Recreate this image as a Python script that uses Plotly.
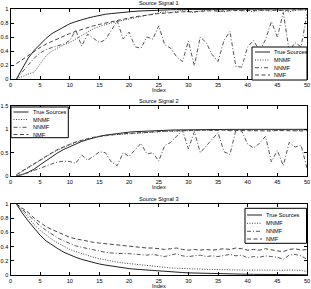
import plotly.graph_objects as go

index = list(range(1, 51))
x_ticks = [0, 5, 10, 15, 20, 25, 30, 35, 40, 45, 50]
series_names = ["True Sources", "MNMF", "NNMF", "NMF"]
titles = ["Source Signal 1", "Source Signal 2", "Source Signal 3"]

true1 = [0, 0.16, 0.30, 0.41, 0.50, 0.58, 0.65, 0.70, 0.75, 0.79, 0.82, 0.85, 0.87, 0.89, 0.91, 0.925, 0.935, 0.945, 0.955, 0.96,
         0.967, 0.972, 0.977, 0.98, 0.984, 0.987, 0.989, 0.991, 0.992, 0.993, 0.994, 0.995, 0.996, 0.997, 0.997, 0.998, 0.998, 0.998, 0.999, 0.999,
         0.999, 0.999, 1, 1, 1, 1, 1, 1, 1, 1]
mnmf1 = [0.0, 0.04, 0.07, 0.10, 0.22, 0.33, 0.40, 0.45, 0.49, 0.52, 0.57, 0.62, 0.68, 0.72, 0.75, 0.78, 0.80, 0.82, 0.84, 0.86,
         0.88, 0.90, 0.92, 0.93, 0.945, 0.96, 0.95, 0.97, 0.98, 0.96, 0.95, 0.97, 0.98, 0.99, 0.97, 0.96, 0.98, 0.99, 0.97, 0.98,
         0.96, 0.99, 0.98, 0.97, 0.99, 0.98, 0.96, 0.98, 0.99, 0.98]
nnmf1 = [0.0, 0.10, 0.20, 0.30, 0.37, 0.42, 0.45, 0.48, 0.50, 0.55, 0.70, 0.47, 0.64, 0.58, 0.52, 0.56, 0.70, 0.83, 0.57, 0.67,
         0.46, 0.44, 0.60, 0.57, 0.76, 0.49, 0.44, 0.32, 0.25, 0.54, 0.19, 0.60, 0.52, 0.35, 0.25, 0.55, 0.68, 0.18, 0.17, 0.46,
         0.55, 0.40, 0.56, 0.82, 0.60, 0.95, 0.40, 0.52, 0.46, 0.93]
nmf1 = [0.22, 0.28, 0.34, 0.40, 0.45, 0.50, 0.54, 0.58, 0.62, 0.65, 0.68, 0.71, 0.74, 0.76, 0.78, 0.80, 0.82, 0.84, 0.86, 0.875,
        0.89, 0.90, 0.915, 0.925, 0.935, 0.94, 0.95, 0.955, 0.96, 0.96, 0.965, 0.97, 0.97, 0.975, 0.97, 0.975, 0.98, 0.975, 0.98, 0.98,
        0.975, 0.98, 0.985, 0.98, 0.985, 0.98, 0.985, 0.99, 0.985, 0.99]

true2 = [0, 0.03, 0.08, 0.15, 0.24, 0.33, 0.42, 0.50, 0.57, 0.63, 0.69, 0.74, 0.78, 0.82, 0.85, 0.875, 0.895, 0.91, 0.925, 0.94,
         0.95, 0.958, 0.965, 0.97, 0.975, 0.98, 0.984, 0.987, 0.99, 0.992, 0.994, 0.995, 0.996, 0.997, 0.998, 0.998, 0.999, 0.999, 1, 1,
         1, 1, 1, 1, 1, 1, 1, 1, 1, 1]
mnmf2 = [0.02, 0.10, 0.18, 0.26, 0.34, 0.42, 0.49, 0.56, 0.62, 0.67, 0.72, 0.76, 0.79, 0.82, 0.85, 0.87, 0.88, 0.89, 0.90, 0.91,
         0.92, 0.93, 0.94, 0.945, 0.95, 0.955, 0.96, 0.965, 0.97, 0.975, 0.98, 0.985, 0.98, 0.99, 0.985, 0.99, 0.98, 0.99, 0.995, 0.99,
         0.98, 0.99, 0.985, 0.99, 0.98, 0.99, 0.985, 0.99, 0.98, 0.99]
nnmf2 = [0.0, 0.03, 0.07, 0.12, 0.17, 0.22, 0.26, 0.30, 0.32, 0.31, 0.27, 0.45, 0.34, 0.42, 0.52, 0.50, 0.30, 0.22, 0.50, 0.42,
         0.55, 0.70, 0.47, 0.50, 0.32, 0.65, 0.72, 0.85, 0.98, 0.58, 0.95, 0.50, 0.65, 0.78, 0.93, 0.52, 0.46, 0.98, 0.96, 0.68,
         0.60, 0.70, 0.85, 0.30, 0.55, 0.22, 0.72, 0.62, 0.66, 0.17]
nmf2 = [0.03, 0.11, 0.19, 0.27, 0.35, 0.43, 0.50, 0.57, 0.63, 0.68, 0.73, 0.77, 0.80, 0.83, 0.85, 0.87, 0.885, 0.895, 0.905, 0.915,
        0.925, 0.935, 0.94, 0.95, 0.955, 0.96, 0.965, 0.97, 0.975, 0.98, 0.975, 0.98, 0.985, 0.975, 0.98, 0.985, 0.97, 0.98, 0.975, 0.97,
        0.965, 0.975, 0.97, 0.965, 0.975, 0.97, 0.96, 0.97, 0.965, 0.97]

true3 = [1.0, 0.87, 0.76, 0.66, 0.56, 0.48, 0.42, 0.37, 0.32, 0.28, 0.25, 0.22, 0.195, 0.175, 0.155, 0.14, 0.125, 0.11, 0.10, 0.09,
         0.082, 0.075, 0.068, 0.062, 0.055, 0.05, 0.045, 0.04, 0.035, 0.03, 0.027, 0.024, 0.021, 0.019, 0.017, 0.015, 0.013, 0.012, 0.011, 0.01,
         0.009, 0.008, 0.007, 0.006, 0.006, 0.005, 0.005, 0.004, 0.004, 0.004]
mnmf3 = [1.0, 0.90, 0.80, 0.71, 0.63, 0.56, 0.50, 0.45, 0.40, 0.36, 0.33, 0.30, 0.27, 0.25, 0.23, 0.21, 0.20, 0.18, 0.17, 0.16,
         0.15, 0.14, 0.13, 0.12, 0.115, 0.11, 0.10, 0.095, 0.09, 0.085, 0.085, 0.08, 0.08, 0.078, 0.075, 0.075, 0.072, 0.07, 0.07, 0.068,
         0.07, 0.068, 0.065, 0.07, 0.068, 0.066, 0.07, 0.068, 0.065, 0.05]
nnmf3 = [1.0, 0.92, 0.84, 0.76, 0.69, 0.63, 0.57, 0.52, 0.48, 0.44, 0.41, 0.39, 0.37, 0.35, 0.33, 0.32, 0.31, 0.30, 0.30, 0.30,
         0.29, 0.29, 0.28, 0.29, 0.27, 0.26, 0.28, 0.30, 0.27, 0.26, 0.27, 0.28, 0.26, 0.27, 0.26, 0.28, 0.29, 0.27, 0.28, 0.24,
         0.26, 0.25, 0.27, 0.26, 0.25, 0.22, 0.28, 0.29, 0.27, 0.22]
nmf3 = [1.0, 0.94, 0.88, 0.80, 0.74, 0.68, 0.64, 0.60, 0.56, 0.53, 0.51, 0.49, 0.47, 0.46, 0.45, 0.44, 0.43, 0.42, 0.41, 0.40,
        0.40, 0.39, 0.38, 0.38, 0.37, 0.36, 0.37, 0.38, 0.36, 0.35, 0.36, 0.35, 0.36, 0.35, 0.36, 0.37, 0.36, 0.38, 0.37, 0.35,
        0.36, 0.35, 0.37, 0.35, 0.34, 0.33, 0.36, 0.37, 0.35, 0.36]

y_ticks = [[0, 0.2, 0.4, 0.6, 0.8, 1], [0, 0.5, 1, 1.5], [0, 0.2, 0.4, 0.6, 0.8, 1]]
y_ranges = [[0, 1], [0, 1.5], [0, 1]]
data = [[true1, mnmf1, nnmf1, nmf1], [true2, mnmf2, nnmf2, nmf2], [true3, mnmf3, nnmf3, nmf3]]

W, H = 311, 289
FONT = "Liberation Sans, Arial, sans-serif"
FS = 5.6
styles = [
    dict(color="#222222", width=1, dash="solid"),
    dict(color="#444444", width=1, dash="1px,1.5px"),
    dict(color="#555555", width=1, dash="4px,2px,1px,2px"),
    dict(color="#444444", width=1, dash="4px,2.5px"),
]

def px(x):
    return x / W

def py(y):
    return 1 - y / H

x_dom = [px(10.5), px(307)]
y_px = [(9, 79), (106, 176), (204, 275)]
y_doms = [[py(b), py(t)] for t, b in y_px]

fig = go.Figure()
for i in range(3):
    ax = "" if i == 0 else str(i + 1)
    for j in range(4):
        fig.add_trace(go.Scatter(
            x=index, y=data[i][j], mode="lines", name=series_names[j],
            line=styles[j], xaxis="x" + ax, yaxis="y" + ax, showlegend=False,
        ))

axis_common = dict(
    showgrid=False, zeroline=False, showline=True, linecolor="black", linewidth=1,
    mirror="ticks", ticks="inside", ticklen=3, tickcolor="black", tickwidth=1,
    tickfont=dict(family=FONT, size=FS, color="black"), automargin=False,
)

layout = dict(
    width=W, height=H, margin=dict(l=0, r=0, t=0, b=0, autoexpand=False),
    paper_bgcolor="white", plot_bgcolor="white",
    font=dict(family=FONT, size=FS, color="black"),
    showlegend=False,
)
for i in range(3):
    ax = "" if i == 0 else str(i + 1)
    layout["xaxis" + ax] = dict(axis_common, domain=x_dom, range=[0, 50], tickvals=x_ticks,
                                anchor="y" + ax, ticklabelstandoff=0)
    layout["yaxis" + ax] = dict(axis_common, domain=y_doms[i], range=y_ranges[i], tickvals=y_ticks[i],
                                anchor="x" + ax)

annotations = []
shapes = []
for i in range(3):
    t, b = y_px[i]
    annotations.append(dict(
        text=titles[i], xref="paper", yref="paper", x=(x_dom[0] + x_dom[1]) / 2,
        y=py(t - 5.5), yanchor="middle", xanchor="center", showarrow=False,
        font=dict(family=FONT, size=FS, color="black"),
    ))
    annotations.append(dict(
        text="Index", xref="paper", yref="paper", x=(x_dom[0] + x_dom[1]) / 2,
        y=py(b + 11), yanchor="middle", xanchor="center", showarrow=False,
        font=dict(family=FONT, size=FS, color="black"),
    ))

# legend boxes (pixel geometry): (left, top, right, bottom, row centres, line start, line end, text start)
legend_boxes = [
    (252, 47, 307, 80, [52, 60, 67.7, 75], 255, 270, 272),
    (11, 107, 68.3, 137.7, [112, 119.5, 127.3, 134.5], 13.5, 28.5, 30.5),
    (245, 208.3, 306.5, 243.3, [215, 223.3, 231.3, 239], 247, 262, 264),
]
for (l, t, r, b, rows, ls, le, ts) in legend_boxes:
    shapes.append(dict(type="rect", xref="paper", yref="paper", x0=px(l), x1=px(r), y0=py(b), y1=py(t),
                       line=dict(color="black", width=1), fillcolor="white", layer="above"))
    for j in range(4):
        shapes.append(dict(type="line", xref="paper", yref="paper", x0=px(ls), x1=px(le),
                           y0=py(rows[j]), y1=py(rows[j]), line=styles[j], layer="above"))
        annotations.append(dict(
            text=series_names[j], xref="paper", yref="paper", x=px(ts), y=py(rows[j]),
            xanchor="left", yanchor="middle", showarrow=False,
            font=dict(family=FONT, size=FS, color="black"),
        ))

layout["annotations"] = annotations
layout["shapes"] = shapes

fig.update_layout(**layout)
fig.write_html("out.html", config={"displayModeBar": False, "staticPlot": True},
               post_script="document.body.style.margin='0';document.body.style.padding='0';")
